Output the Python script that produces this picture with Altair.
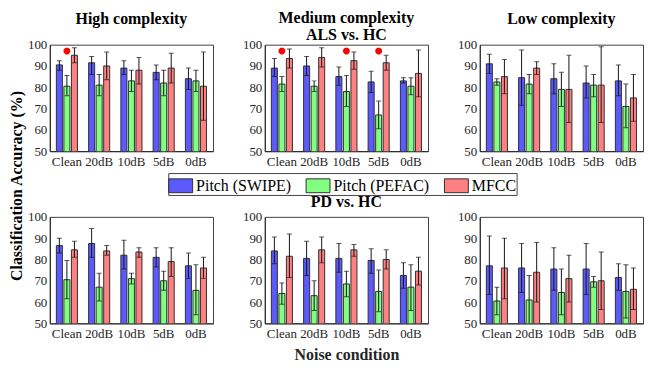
import altair as alt
import pandas as pd

conditions = ["Clean", "20dB", "10dB", "5dB", "0dB"]
features = ["Pitch (SWIPE)", "Pitch (PEFAC)", "MFCC"]
colors = ["#5a5aff", "#80ff80", "#ff8080"]

# ALS vs. HC, high complexity
als_high_swipe = [90.5, 91.5, 89, 87, 84]
als_high_swipe_lo = [88, 86, 86, 83.5, 79]
als_high_swipe_hi = [92.5, 94.5, 92.5, 90.5, 89]
als_high_pefac = [80.5, 81, 83, 82, 83]
als_high_pefac_lo = [76, 76, 78, 76, 78]
als_high_pefac_hi = [85.5, 86, 88, 88, 88]
als_high_mfcc = [95, 90, 88, 89, 80.5]
als_high_mfcc_lo = [91.5, 83.5, 81.5, 82, 64.5]
als_high_mfcc_hi = [98.5, 96.5, 94, 96, 96.5]

# ALS vs. HC, medium complexity
als_med_swipe = [89, 90, 85, 82.5, 83]
als_med_swipe_lo = [85, 85.5, 81, 77.5, 82]
als_med_swipe_hi = [93.5, 94.5, 89.5, 87.5, 84.5]
als_med_pefac = [81.5, 80.5, 78, 67, 80.5]
als_med_pefac_lo = [78, 78, 71, 60.5, 76.5]
als_med_pefac_hi = [85, 83, 85.5, 73.5, 84.5]
als_med_mfcc = [93.5, 94, 92.5, 91.5, 86.5]
als_med_mfcc_lo = [89, 89.5, 88.5, 88, 75.5]
als_med_mfcc_hi = [98, 98.5, 96.5, 95, 97.5]

# ALS vs. HC, low complexity
als_low_swipe = [91, 84.5, 84, 82, 83]
als_low_swipe_lo = [86.5, 71.5, 77, 75, 76]
als_low_swipe_hi = [95.5, 97.5, 91, 90, 90.5]
als_low_pefac = [82.5, 81.5, 79, 81, 71]
als_low_pefac_lo = [81, 77, 71, 75.5, 61]
als_low_pefac_hi = [84, 86, 87, 86, 81.5]
als_low_mfcc = [85, 89, 79, 81, 75]
als_low_mfcc_lo = [77, 86, 63.5, 63.5, 64]
als_low_mfcc_hi = [93, 92, 95, 99, 86]

# PD vs. HC, high complexity
pd_high_swipe = [86.5, 87.5, 82, 81, 77]
pd_high_swipe_lo = [83, 81, 75.5, 76.5, 71]
pd_high_swipe_hi = [90, 94.5, 89, 85.5, 83]
pd_high_pefac = [70.5, 67, 71, 70, 65.5]
pd_high_pefac_lo = [61.5, 60.5, 68.5, 65.5, 54]
pd_high_pefac_hi = [79.5, 73.5, 73.5, 74.5, 77.5]
pd_high_mfcc = [84.5, 84, 83.5, 79, 76]
pd_high_mfcc_lo = [81, 82, 81, 72, 71]
pd_high_mfcc_hi = [88.5, 86.5, 85.5, 85.5, 81]

# PD vs. HC, medium complexity
pd_med_swipe = [84, 80.5, 80.5, 79.5, 72.5]
pd_med_swipe_lo = [78, 72.5, 74, 73.5, 66.5]
pd_med_swipe_hi = [90.5, 88.5, 87.5, 85, 78.5]
pd_med_pefac = [64, 63, 68.5, 65, 67]
pd_med_pefac_lo = [59, 56, 62.5, 55.5, 56]
pd_med_pefac_hi = [69, 70, 74.5, 75, 77.5]
pd_med_mfcc = [81.5, 84.5, 84.5, 80, 74.5]
pd_med_mfcc_lo = [71.5, 78.5, 81.5, 75.5, 68]
pd_med_mfcc_hi = [92, 90.5, 87, 84.5, 81]

# PD vs. HC, low complexity
pd_low_swipe = [77, 76, 75.5, 75.5, 71.5]
pd_low_swipe_lo = [63.5, 64.5, 65.5, 63.5, 65.5]
pd_low_swipe_hi = [91, 87.5, 85.5, 87.5, 78]
pd_low_pefac = [60.5, 61, 64.5, 69.5, 65]
pd_low_pefac_lo = [54, 49, 54, 67, 52.5]
pd_low_pefac_hi = [67, 72.5, 75.5, 72, 77.5]
pd_low_mfcc = [76, 74, 71, 70, 66]
pd_low_mfcc_lo = [61.5, 60, 60, 56.5, 56.5]
pd_low_mfcc_hi = [90, 88, 82, 83.5, 76]

# significance markers (condition, feature position, value)
als_high_stars = ["Clean"]
als_med_stars = ["Clean", "10dB", "5dB"]
star_feature = "Pitch (PEFAC)"
star_level = 97

y_ticks = [50, 60, 70, 80, 90, 100]

SERIF = "Liberation Serif"
PW, PH = 164, 107


def build_df(groups):
    rows = []
    for feat, (m, lo, hi) in zip(features, groups):
        for c, mv, lv, hv in zip(conditions, m, lo, hi):
            rows.append({"cond": c, "feat": feat, "mean": mv, "lo": lv, "hi": hv})
    return pd.DataFrame(rows)


def panel(groups, stars, title=None, title_offset=6, xtitle=None):
    df = build_df(groups)
    xax = alt.Axis(title=xtitle, labelAngle=0, labelFont=SERIF, labelFontSize=13,
                   labelColor="#262626", labelPadding=4, labelOverlap=False,
                   ticks=False, domainColor="#262626",
                   titleFont=SERIF, titleFontSize=16,
                   titleFontWeight="bold", titleColor="#262626", titlePadding=6)
    yax = alt.Axis(values=y_ticks, title=None, labelFont=SERIF, ticks=False,
                   labelFontSize=13, labelColor="#262626", labelPadding=3,
                   labelOverlap=False, domainColor="#262626", grid=False)
    xsc = alt.Scale(domain=conditions, paddingInner=0.3, paddingOuter=0.18)
    xo = alt.XOffset("feat:N", sort=features,
                     scale=alt.Scale(domain=features, paddingInner=0.2, paddingOuter=0.1))
    ysc = alt.Scale(domain=[50, 100], nice=False, zero=False)

    def X():
        return alt.X("cond:N", sort=conditions, scale=xsc, axis=xax)

    def Y(f):
        return alt.Y(f, scale=ysc, axis=yax)

    base = alt.Chart(df)
    bars = base.mark_bar(clip=True, stroke="#303030", strokeWidth=1).encode(
        x=X(), xOffset=xo,
        y=Y("mean:Q"),
        color=alt.Color("feat:N", sort=features,
                        scale=alt.Scale(domain=features, range=colors),
                        legend=alt.Legend(orient="none", legendX=119, legendY=129,
                                          direction="horizontal", title=None,
                                          symbolType="M-1,-0.58H1V0.58H-1Z", symbolSize=576,
                                          symbolStrokeColor="#303030", symbolStrokeWidth=1,
                                          symbolOpacity=1, labelFont=SERIF, labelFontSize=16,
                                          labelColor="#000", labelOffset=3, columnPadding=12,
                                          padding=0, strokeColor="#444", fillColor="#fff")),
    )
    rule = base.mark_rule(clip=True, color="#151515", strokeWidth=1).encode(
        x=X(), xOffset=xo, y=Y("lo:Q"), y2="hi:Q")
    cap_lo = base.mark_tick(clip=True, orient="horizontal", size=5, thickness=1,
                            color="#151515").encode(x=X(), xOffset=xo, y=Y("lo:Q"))
    cap_hi = base.mark_tick(clip=True, orient="horizontal", size=5, thickness=1,
                            color="#151515").encode(x=X(), xOffset=xo, y=Y("hi:Q"))
    layers = [bars, rule, cap_lo, cap_hi]
    if stars:
        sdf = pd.DataFrame({"cond": stars, "feat": [star_feature] * len(stars),
                            "val": [star_level] * len(stars)})
        st = alt.Chart(sdf).mark_point(
            shape="M-1,0L1,0M0,-1L0,1M-0.7,-0.7L0.7,0.7M-0.7,0.7L0.7,-0.7",
            filled=False, stroke="#ff0000", strokeWidth=2.5, size=45, opacity=1).encode(
            x=X(), xOffset=xo, y=Y("val:Q"))
        layers.append(st)
    ch = alt.layer(*layers).properties(width=PW, height=PH)
    if title is not None:
        ch = ch.properties(title=alt.TitleParams(title, font=SERIF, fontSize=16, fontWeight="bold",
                                                 color="#000", offset=title_offset, lineHeight=17))
    return ch


p1 = panel([(als_high_swipe, als_high_swipe_lo, als_high_swipe_hi),
            (als_high_pefac, als_high_pefac_lo, als_high_pefac_hi),
            (als_high_mfcc, als_high_mfcc_lo, als_high_mfcc_hi)],
           als_high_stars, "High complexity", title_offset=12)
p2 = panel([(als_med_swipe, als_med_swipe_lo, als_med_swipe_hi),
            (als_med_pefac, als_med_pefac_lo, als_med_pefac_hi),
            (als_med_mfcc, als_med_mfcc_lo, als_med_mfcc_hi)],
           als_med_stars, ["Medium complexity", "ALS vs. HC"], title_offset=-4)
p3 = panel([(als_low_swipe, als_low_swipe_lo, als_low_swipe_hi),
            (als_low_pefac, als_low_pefac_lo, als_low_pefac_hi),
            (als_low_mfcc, als_low_mfcc_lo, als_low_mfcc_hi)],
           None, "Low complexity", title_offset=12)
p4 = panel([(pd_high_swipe, pd_high_swipe_lo, pd_high_swipe_hi),
            (pd_high_pefac, pd_high_pefac_lo, pd_high_pefac_hi),
            (pd_high_mfcc, pd_high_mfcc_lo, pd_high_mfcc_hi)], None)
p5 = panel([(pd_med_swipe, pd_med_swipe_lo, pd_med_swipe_hi),
            (pd_med_pefac, pd_med_pefac_lo, pd_med_pefac_hi),
            (pd_med_mfcc, pd_med_mfcc_lo, pd_med_mfcc_hi)],
           None, "PD vs. HC", title_offset=1, xtitle="Noise condition")
p6 = panel([(pd_low_swipe, pd_low_swipe_lo, pd_low_swipe_hi),
            (pd_low_pefac, pd_low_pefac_lo, pd_low_pefac_hi),
            (pd_low_mfcc, pd_low_mfcc_lo, pd_low_mfcc_hi)], None)

chart = alt.concat(p1, p2, p3, p4, p5, p6, columns=3, bounds="flush",
                   spacing={"row": 66, "column": 52}
                   ).properties(
    title=alt.TitleParams("Classification Accuracy (%)", orient="left", anchor="middle",
                          font=SERIF, fontSize=16, fontWeight="bold", color="#000", offset=2),
    padding={"left": 0, "top": 0, "right": 0, "bottom": 0},
).configure_view(stroke="#404040", strokeWidth=1).configure_axis(
    labelFont=SERIF, labelFontSize=13, labelColor="#262626", domainColor="#262626",
    ticks=False, grid=False, labelPadding=3,
)

chart.save("out.html", embed_options={"renderer": "svg", "actions": False})
